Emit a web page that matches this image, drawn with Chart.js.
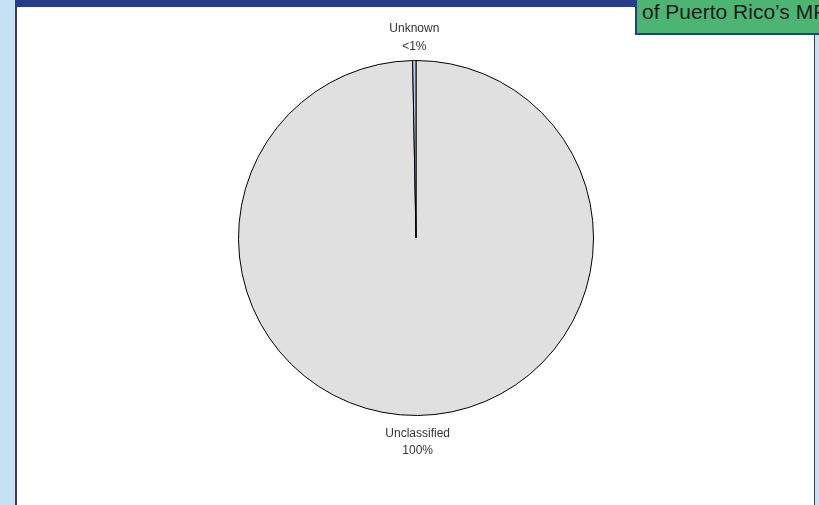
<!DOCTYPE html>
<html>
<head>
<meta charset="utf-8">
<script src="https://cdn.jsdelivr.net/npm/chart.js@4"></script>
<style>
  body { margin: 0; width: 819px; height: 505px; overflow: hidden; background: #c6e0f4; position: relative; font-family: "Liberation Sans", Arial, sans-serif; }
  #panel { position: absolute; left: 15px; top: 0; width: 800px; height: 505px; background: #fff; border-left: 2px solid #3a3f55; border-right: 1px solid #3a3f55; box-sizing: border-box; }
  #topbar { position: absolute; left: 15px; top: 0; width: 625px; height: 7px; background: #283c8c; }
  #tag { position: absolute; left: 635px; top: 0; width: 190px; height: 35px; background: #4cb574; border-left: 2px solid #283c8c; border-bottom: 2px solid #283c8c; box-sizing: border-box; color: #1a1a1a; font-size: 21px; line-height: 24px; padding-left: 5px; white-space: nowrap; overflow: hidden; }
  #wrap { position: absolute; left: 17px; top: 7px; width: 798px; height: 498px; }
</style>
</head>
<body>
<div id="panel"></div>
<div id="topbar"></div>
<div id="tag">of Puerto Rico’s MPAs</div>
<div id="wrap"><canvas id="chart"></canvas></div>
<script>
const categories = ["Unclassified", "Unknown"];
const values = [99.7, 0.3];
const shownLabels = ["100%", "<1%"];
const colors = ["#e0e0e0", "#b4cbf0"];

// etiquetas fuera del pastel
const outsideLabels = {
  id: "outsideLabels",
  afterDatasetsDraw(chart) {
    const ctx = chart.ctx;
    const meta = chart.getDatasetMeta(0);
    ctx.save();
    ctx.font = "12px 'Liberation Sans', Arial, sans-serif";
    ctx.fillStyle = "#333";
    ctx.textAlign = "center";
    meta.data.forEach((arc, i) => {
      const mid = (arc.startAngle + arc.endAngle) / 2;
      const r = arc.outerRadius;
      const x = arc.x + Math.cos(mid) * r;
      const y = arc.y + Math.sin(mid) * r;
      if (Math.sin(mid) < 0) {
        ctx.fillText(categories[i], x, y - 29);
        ctx.fillText(shownLabels[i], x, y - 11);
      } else {
        ctx.fillText(categories[i], x, y + 22);
        ctx.fillText(shownLabels[i], x, y + 39);
      }
    });
    ctx.restore();
  }
};

new Chart(document.getElementById("chart"), {
  type: "pie",
  data: {
    labels: categories,
    datasets: [{
      data: values,
      backgroundColor: colors,
      borderColor: "#000",
      borderWidth: 1
    }]
  },
  options: {
    responsive: true,
    maintainAspectRatio: false,
    animation: false,
    layout: { padding: { top: 53, bottom: 89 } },
    plugins: { legend: { display: false }, tooltip: { enabled: false } }
  },
  plugins: [outsideLabels]
});
</script>
</body>
</html>
